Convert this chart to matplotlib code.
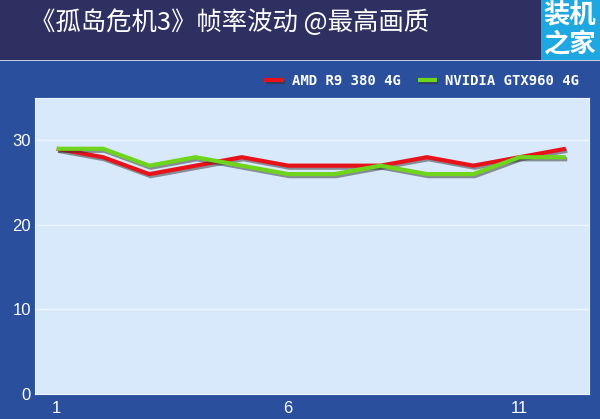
import matplotlib
matplotlib.use('Agg')
import matplotlib.pyplot as plt
import matplotlib.patheffects as pe
from matplotlib.patches import Rectangle

plt.rcParams['font.family'] = ['Noto Sans CJK SC', 'DejaVu Sans']

# 数据
x_vals = list(range(1, 13))
amd_fps = [29, 28, 26, 27, 28, 27, 27, 27, 28, 27, 28, 29]
nv_fps = [29, 29, 27, 28, 27, 26, 26, 27, 26, 26, 28, 28]
series_names = ['AMD R9 380 4G', 'NVIDIA GTX960 4G']
title_text = '《孤岛危机3》帧率波动 @最高画质'
x_ticks = [1, 6, 11]
y_ticks = [0, 10, 20, 30]

fig = plt.figure(figsize=(6, 4.19), dpi=100)
fig.patch.set_facecolor('#2a4f9c')

# 顶部标题栏
fig.patches.append(Rectangle((0, 1 - 61 / 419), 1, 61 / 419, transform=fig.transFigure,
                             facecolor='#c8cce8', edgecolor='none', zorder=0))
fig.patches.append(Rectangle((0, 1 - 60 / 419), 1, 60 / 419, transform=fig.transFigure,
                             facecolor='#2f3062', edgecolor='none', zorder=0))
fig.text(30 / 600, 1 - 23 / 419, title_text, color='white', fontsize=18.3,
         fontweight='medium', va='center', ha='left')

# logo
fig.patches.append(Rectangle((541 / 600, 1 - 60 / 419), 59 / 600, 60 / 419,
                             transform=fig.transFigure, facecolor='#1ea7e1',
                             edgecolor='none', zorder=1))
fig.text(570 / 600, 1 - 16 / 419, '装机', color='white', fontsize=19,
         fontweight='bold', ha='center', va='center')
fig.text(570 / 600, 1 - 44 / 419, '之家', color='white', fontsize=19,
         fontweight='bold', ha='center', va='center')

ax = fig.add_axes([35 / 600, 25 / 419, 554 / 600, 296 / 419])
ax.set_facecolor('#d8e9fc')

shadow = [pe.SimpleLineShadow(offset=(1, -1.5), shadow_color='#333333', alpha=0.5), pe.Normal()]
ax.plot(x_vals, amd_fps, color='#e8121a', lw=3, label=series_names[0],
        path_effects=shadow, solid_capstyle='butt', zorder=3)
ax.plot(x_vals, nv_fps, color='#6fd51c', lw=3, label=series_names[1],
        path_effects=shadow, solid_capstyle='butt', zorder=4)

ax.set_xlim(0.53, 12.5)
ax.set_ylim(0, 35)
ax.set_xticks(x_ticks)
ax.set_yticks(y_ticks)
for y in y_ticks[1:]:
    ax.axhline(y, color='#eef5fe', lw=1, zorder=1)
ax.tick_params(length=0, colors='white', labelsize=12)
ax.tick_params(axis='y', pad=3)
ax.tick_params(axis='x', pad=5)
for lab in ax.get_xticklabels() + ax.get_yticklabels():
    lab.set_family(['Liberation Sans', 'DejaVu Sans'])
for s in ax.spines.values():
    s.set_color('#eef5fe')
    s.set_linewidth(0.8)

leg = ax.legend(loc='lower right', bbox_to_anchor=(1.0, 1.0), ncol=2, frameon=False,
                prop={'family': 'DejaVu Sans Mono', 'size': 10, 'weight': 'bold'},
                handlelength=1.4, columnspacing=1.2, handletextpad=0.6, borderaxespad=0.3)
for t in leg.get_texts():
    t.set_color('white')

fig.savefig('out.png', dpi=100, facecolor=fig.get_facecolor())
